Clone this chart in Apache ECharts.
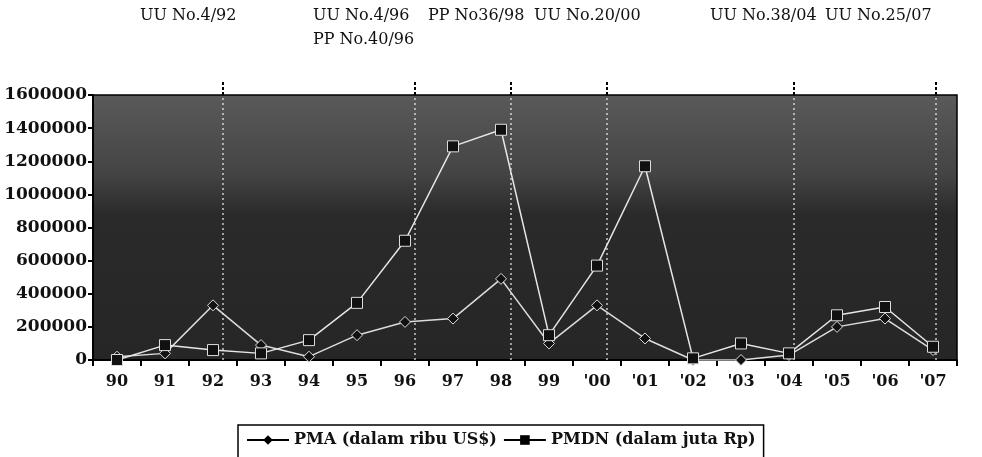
<!DOCTYPE html>
<html>
<head>
<meta charset="utf-8">
<script src="https://cdn.jsdelivr.net/npm/echarts@6/dist/echarts.min.js"></script>
<style>
  html, body { margin: 0; padding: 0; background: #fff; }
  #chart { width: 982px; height: 457px; }
</style>
</head>
<body>
<div id="chart"></div>
<script>
// tahun
var years = ["90", "91", "92", "93", "94", "95", "96", "97", "98", "99",
  "'00", "'01", "'02", "'03", "'04", "'05", "'06", "'07"];
// PMA (dalam ribu US$)
var pma = [20000, 40000, 330000, 90000, 20000, 150000, 230000, 250000, 490000, 100000,
  330000, 130000, 0, 0, 30000, 200000, 250000, 60000];
// PMDN (dalam juta Rp)
var pmdn = [0, 90000, 60000, 40000, 120000, 345000, 720000, 1290000, 1390000, 150000,
  570000, 1170000, 10000, 100000, 40000, 270000, 320000, 80000];
// saat undang-undang (dalam satuan tahun dari awal 1990)
var lawTime = [2.7, 6.7, 8.7, 10.7, 14.6, 17.55];
var lawNames = ["UU No.4/92", "UU No.4/96", "PP No36/98", "UU No.20/00", "UU No.38/04", "UU No.25/07"];
var yTicks = [0, 200000, 400000, 600000, 800000, 1000000, 1200000, 1400000, 1600000];

var chart = echarts.init(document.getElementById("chart"));
var font = "DejaVu Serif";
var noteFont = "16px " + font;

var option = {
  animation: false,
  textStyle: { fontFamily: font, color: "#111" },
  grid: [
    {
      left: 93, right: 25, top: 95, bottom: 97,
      show: true,
      borderColor: "#000",
      borderWidth: 1.5,
      backgroundColor: new echarts.graphic.LinearGradient(0, 0, 0, 1, [
        { offset: 0, color: "#5a5a5a" },
        { offset: 0.3, color: "#444" },
        { offset: 0.45, color: "#2a2a2a" },
        { offset: 1, color: "#262626" }
      ])
    },
    { left: 93, right: 25, top: 80, height: 15 }
  ],
  xAxis: [
    {
      type: "category",
      gridIndex: 0,
      data: years,
      boundaryGap: true,
      axisLine: { lineStyle: { color: "#000", width: 2 } },
      axisTick: { show: true, length: 6, lineStyle: { color: "#000", width: 2 } },
      axisLabel: { fontFamily: font, fontSize: 16, fontWeight: "bold", color: "#111", margin: 14 }
    },
    { type: "value", gridIndex: 0, min: 0, max: 18, show: false },
    { type: "value", gridIndex: 1, min: 0, max: 18, show: false }
  ],
  yAxis: [
    {
      type: "value",
      gridIndex: 0,
      min: 0,
      max: 1600000,
      interval: 200000,
      axisLine: { show: true, lineStyle: { color: "#000", width: 2 } },
      axisTick: { show: true, length: 5, lineStyle: { color: "#000", width: 2 } },
      axisLabel: {
        fontFamily: font, fontSize: 17, fontWeight: "bold", color: "#111", margin: 6,
        formatter: function (v) { return yTicks.indexOf(v) >= 0 ? String(v) : ""; }
      },
      splitLine: { show: false }
    },
    { type: "value", gridIndex: 1, min: 0, max: 1, show: false }
  ],
  legend: {
    left: 238,
    top: 425,
    orient: "horizontal",
    borderColor: "#000",
    borderWidth: 1.5,
    padding: [7, 8, 12, 8],
    itemGap: 6,
    itemWidth: 42,
    itemHeight: 12,
    itemStyle: { color: "#000", borderWidth: 0 },
    lineStyle: { color: "#000", width: 2 },
    textStyle: { fontFamily: font, fontSize: 16, fontWeight: "bold", color: "#111" },
    data: ["PMA (dalam ribu US$)", "PMDN (dalam juta Rp)"]
  },
  graphic: [
    { type: "text", left: 140, top: 8, style: { text: lawNames[0], font: noteFont, fill: "#111" } },
    { type: "text", left: 313, top: 8, style: { text: lawNames[1], font: noteFont, fill: "#111" } },
    { type: "text", left: 313, top: 32, style: { text: "PP No.40/96", font: noteFont, fill: "#111" } },
    { type: "text", left: 428, top: 8, style: { text: lawNames[2], font: noteFont, fill: "#111" } },
    { type: "text", left: 534, top: 8, style: { text: lawNames[3], font: noteFont, fill: "#111" } },
    { type: "text", left: 710, top: 8, style: { text: lawNames[4], font: noteFont, fill: "#111" } },
    { type: "text", left: 825, top: 8, style: { text: lawNames[5], font: noteFont, fill: "#111" } }
  ],
  series: [
    {
      name: "laws",
      type: "line",
      xAxisIndex: 1,
      yAxisIndex: 0,
      data: [],
      silent: true,
      markLine: {
        silent: true,
        symbol: "none",
        label: { show: false },
        lineStyle: { color: "rgba(255,255,255,0.75)", type: [2, 3], width: 1.5 },
        data: lawTime.map(function (t) { return { xAxis: t }; })
      }
    },
    {
      name: "lawsTop",
      type: "line",
      xAxisIndex: 2,
      yAxisIndex: 1,
      data: [],
      silent: true,
      markLine: {
        silent: true,
        symbol: "none",
        label: { show: false },
        lineStyle: { color: "#000", type: [3, 2], width: 2 },
        data: lawTime.map(function (t) { return { xAxis: t }; })
      }
    },
    {
      name: "PMA (dalam ribu US$)",
      type: "line",
      xAxisIndex: 0,
      yAxisIndex: 0,
      data: pma,
      symbol: "diamond",
      symbolSize: 11,
      lineStyle: { color: "#dcdcdc", width: 1.5 },
      itemStyle: { color: "#111", borderColor: "#ddd", borderWidth: 1 },
      z: 5
    },
    {
      name: "PMDN (dalam juta Rp)",
      type: "line",
      xAxisIndex: 0,
      yAxisIndex: 0,
      data: pmdn,
      symbol: "rect",
      symbolSize: 11,
      lineStyle: { color: "#e6e6e6", width: 1.5 },
      itemStyle: { color: "#111", borderColor: "#ddd", borderWidth: 1 },
      z: 6
    }
  ]
};

chart.setOption(option);
</script>
</body>
</html>
